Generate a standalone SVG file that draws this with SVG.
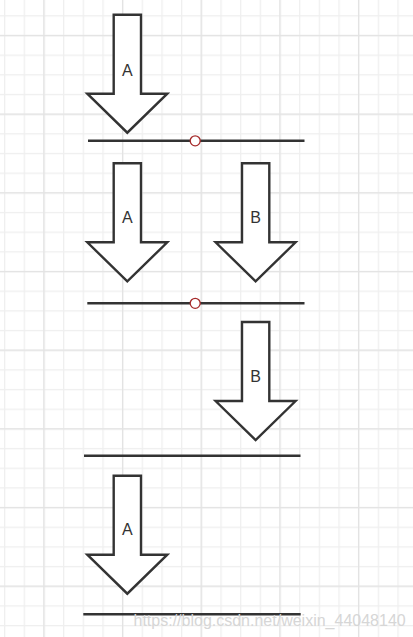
<svg xmlns="http://www.w3.org/2000/svg" xmlns:xlink="http://www.w3.org/1999/xlink" width="413" height="637" viewBox="0 0 413 637">
  <style>
    .arrow { fill: #ffffff; stroke: #333333; stroke-width: 2.4; stroke-linejoin: miter; }
    .lbl { font-family: "Liberation Sans", Arial, sans-serif; font-size: 16px; fill: #333333; text-anchor: middle; }
    .base { stroke: #333333; stroke-width: 2.4; fill: none; }
    .pin { fill: #ffffff; stroke: #a52a2a; stroke-width: 1.3; }
    .wm { font-family: "Liberation Sans", Arial, sans-serif; font-size: 16px; fill: #d6d6d6; }
  </style>
  <defs>
    <pattern id="minor" patternUnits="userSpaceOnUse" x="4" y="15.2" width="19.67" height="19.67">
      <rect x="0" y="0" width="1.3" height="19.67" fill="#efefef"/>
      <rect x="0" y="0" width="19.67" height="1.3" fill="#efefef"/>
    </pattern>
    <pattern id="major" patternUnits="userSpaceOnUse" x="43.3" y="34.9" width="78.67" height="78.67">
      <rect x="0" y="0" width="1.3" height="78.67" fill="#e3e3e3"/>
      <rect x="0" y="0" width="78.67" height="1.3" fill="#e3e3e3"/>
    </pattern>
    <path id="arrowShape" class="arrow" d="M113.7,0 H141 V79 H167.3 L127.3,118 L87.3,79 H113.7 Z"/>
  </defs>
  <rect width="413" height="637" fill="#ffffff"/>
  <rect width="413" height="637" fill="url(#minor)"/>
  <rect width="413" height="637" fill="url(#major)"/>

  <g id="connectors">
    <line class="base" x1="88" y1="140.8" x2="304.5" y2="140.8"/>
    <line class="base" x1="87.3" y1="303.3" x2="304.5" y2="303.3"/>
    <line class="base" x1="84" y1="455.7" x2="300.5" y2="455.7"/>
    <line class="base" x1="83.3" y1="614.3" x2="300.7" y2="614.3"/>
    <circle class="pin" cx="195.2" cy="140.8" r="5"/>
    <circle class="pin" cx="195.2" cy="303.3" r="5"/>
  </g>

  <g id="arrowA1">
    <use xlink:href="#arrowShape" transform="translate(0,14.7)"/>
    <text class="lbl" x="127.3" y="75.5">A</text>
  </g>
  <g id="arrowA2">
    <use xlink:href="#arrowShape" transform="translate(0,163.3)"/>
    <text class="lbl" x="127.3" y="222.5">A</text>
  </g>
  <g id="arrowB1">
    <use xlink:href="#arrowShape" transform="translate(128.3,163.3)"/>
    <text class="lbl" x="255.6" y="222.5">B</text>
  </g>
  <g id="arrowB2">
    <use xlink:href="#arrowShape" transform="translate(128.3,322)"/>
    <text class="lbl" x="255.6" y="382">B</text>
  </g>
  <g id="arrowA3">
    <use xlink:href="#arrowShape" transform="translate(0,475.7)"/>
    <text class="lbl" x="127.3" y="535.3">A</text>
  </g>

  <text class="wm" x="133.5" y="625.5">https://blog.csdn.net/weixin_44048140</text>
</svg>
